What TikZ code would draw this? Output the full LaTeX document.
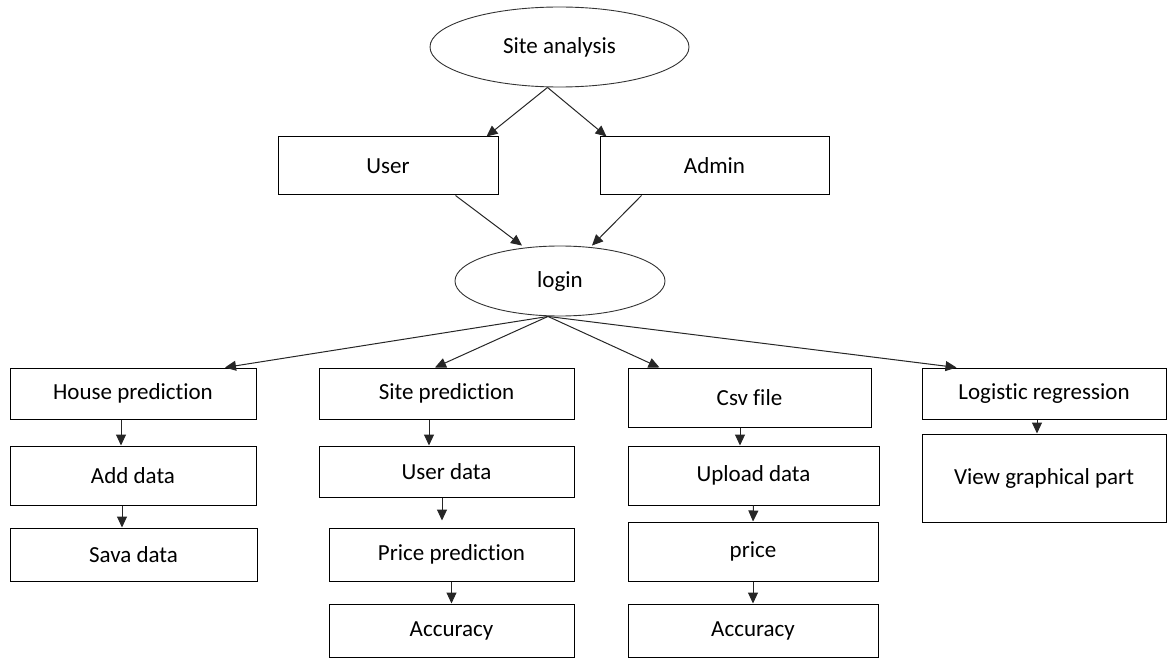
\documentclass[tikz,border=0pt]{standalone}
\usepackage{fontspec}
\setmainfont{Carlito}[Ligatures={NoCommon}]
\usetikzlibrary{arrows.meta,shapes.geometric}
\tikzset{
  box/.style={draw=black, line width=1pt, rectangle, inner sep=0pt, align=center, font=\fontsize{23}{27}\selectfont},
  oval/.style={draw=black!80, line width=0.9pt, ellipse, inner sep=0pt, font=\fontsize{23}{27}\selectfont},
  arr/.style={draw=black!85, line width=1pt, -{Triangle[length=11pt,width=10pt]}}
}
\begin{document}
\begin{tikzpicture}[x=1pt,y=-1pt]
\useasboundingbox (0,0) rectangle (1168,658);
% top
\node[oval, minimum width=259pt, minimum height=80pt] (sa) at (559.5,47) {Site analysis};
\node[box, minimum width=220pt, minimum height=58pt] (user) at (388,166) {User};
\node[box, minimum width=229pt, minimum height=58pt] (admin) at (714.5,166) {Admin};
\node[oval, minimum width=210pt, minimum height=70pt] (login) at (560,281) {login};
% row 1
\node[box, minimum width=246pt, minimum height=51pt] (house) at (133,393.5) {House prediction};
\node[box, minimum width=255pt, minimum height=51pt] (sitep) at (446.5,393.5) {Site prediction};
\node[box, minimum width=243pt, minimum height=59pt] (csv) at (749.5,397.5) {Csv file};
\node[box, minimum width=244pt, minimum height=51pt] (logi) at (1044,393.5) {Logistic regression};
% row 2
\node[box, minimum width=246pt, minimum height=59pt] (add) at (133,475.5) {Add data};
\node[box, minimum width=255pt, minimum height=51pt] (userd) at (446.5,471.5) {User data};
\node[box, minimum width=251pt, minimum height=59pt] (upload) at (753.5,475.5) {Upload data};
\node[box, minimum width=244pt, minimum height=88pt] (view) at (1044,478) {View graphical part};
% row 3
\node[box, minimum width=247pt, minimum height=53pt] (sava) at (133.5,554.5) {Sava data};
\node[box, minimum width=245pt, minimum height=53pt] (pricep) at (451.5,554.5) {Price prediction};
\node[box, minimum width=250pt, minimum height=59pt] (price) at (753,551.5) {price};
% row 4
\node[box, minimum width=245pt, minimum height=53pt] (acc1) at (451.5,630.5) {Accuracy};
\node[box, minimum width=250pt, minimum height=53pt] (acc2) at (753,630.5) {Accuracy};
% connectors
\draw[arr] ([xshift=-12pt]sa.south) -- ([xshift=-12pt]user.north east);
\draw[arr] ([xshift=-12pt]sa.south) -- ([xshift=7pt]admin.north west);
\draw[arr] ([xshift=-43pt]user.south east) -- ([xshift=-38pt]login.north);
\draw[arr] ([xshift=42pt]admin.south west) -- ([xshift=32pt]login.north);
\draw[arr] ([xshift=-12pt]login.south) -- ([xshift=92pt]house.north);
\draw[arr] ([xshift=-12pt]login.south) -- ([xshift=-11.5pt]sitep.north);
\draw[arr] ([xshift=-12pt]login.south) -- ([xshift=32pt]csv.north west);
\draw[arr] ([xshift=-12pt]login.south) -- ([xshift=35pt]logi.north west);
\draw[arr] ([xshift=-12pt]house.south) -- ([xshift=-12pt]add.north);
\draw[arr] ([xshift=-17.5pt]sitep.south) -- ([xshift=-17.5pt]userd.north);
\draw[arr] ([xshift=-9.5pt]csv.south) -- ([xshift=-13.5pt]upload.north);
\draw[arr] ([xshift=-7pt]logi.south) -- ([xshift=-7pt]view.north);
\draw[arr] ([xshift=-11pt]add.south) -- ([xshift=-11.5pt]sava.north);
\draw[arr, shorten >=7pt] ([xshift=-4.5pt]userd.south) -- ([xshift=-9.5pt]pricep.north);
\draw[arr] (upload.south) -- (price.north);
\draw[arr] (pricep.south) -- (acc1.north);
\draw[arr] (price.south) -- (acc2.north);
\end{tikzpicture}
\end{document}
